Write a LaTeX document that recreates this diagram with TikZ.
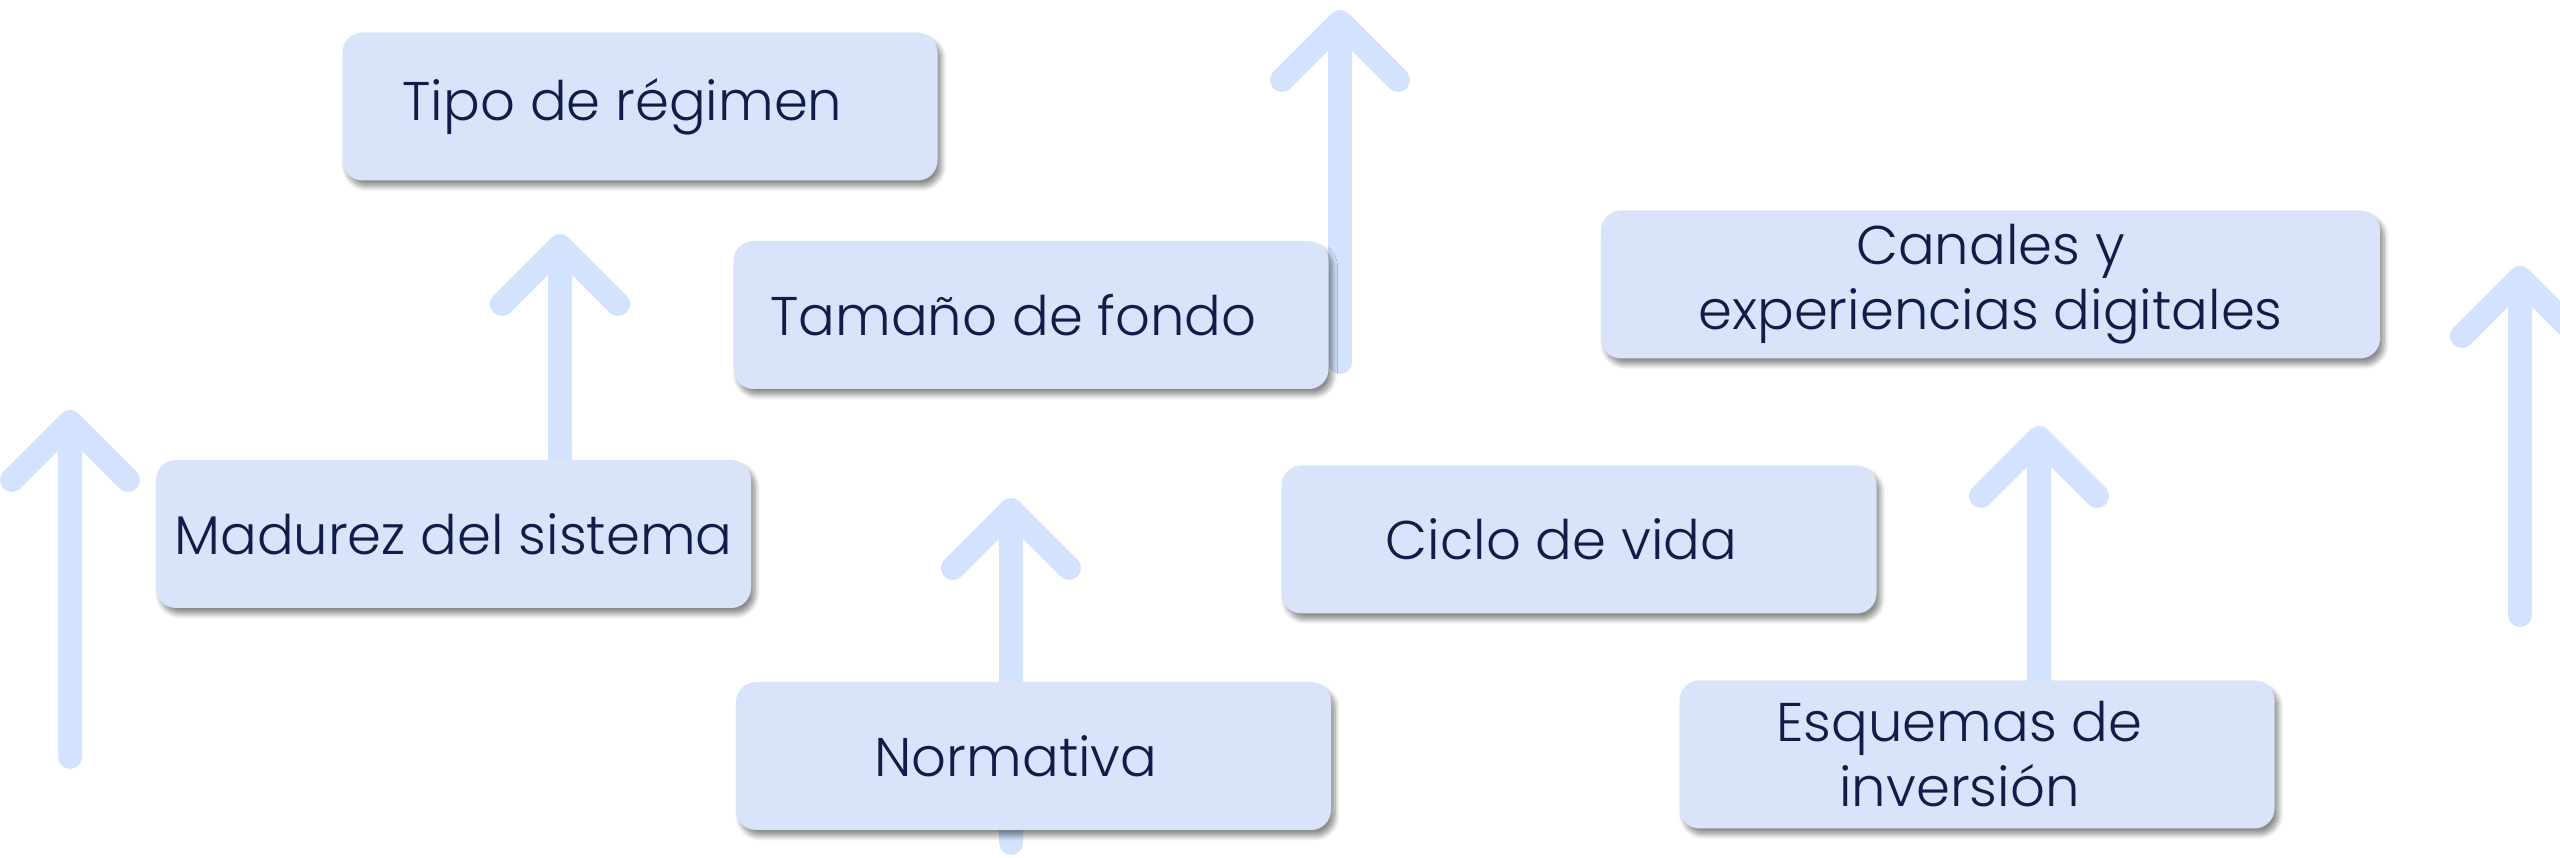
\documentclass[tikz,border=0pt]{standalone}
\usepackage{fontspec}
\setmainfont{Poppins}[UprightFont=* Light]
\usepackage{tikz}
\usetikzlibrary{calc}
\usetikzlibrary{shadows.blur}
\usetikzlibrary{backgrounds}

\definecolor{boxblue}{HTML}{D9E3F9}
\definecolor{arrowblue}{HTML}{D3E2FD}
\definecolor{ink}{HTML}{101D48}
\newcommand{\rpad}{\hspace*{.35cm}}

\tikzset{
  factor/.style={rounded corners=2mm, fill=boxblue, text=ink, align=center,
    minimum width=5.95cm, minimum height=1.48cm, inner sep=0pt,
    font=\fontsize{15.5}{18.5}\selectfont,
    blur shadow={shadow xshift=.04cm, shadow yshift=-.06cm,
      shadow blur radius=.5mm, shadow blur steps=8, shadow opacity=45}},
  pointer/.style={draw=arrowblue, line width=2.4mm, line cap=round, line join=round}
}

\begin{document}
\begin{tikzpicture}

    \useasboundingbox (0, 0) rectangle (25.6, 8.58);

    \node [factor] (tipo) at (6.40, 7.515) {Tipo de régimen\rpad};
    \node [factor] (tamano) at (10.31, 5.43) {Tamaño de fondo\rpad};
    \node [factor] (madurez) at (4.535, 3.24) {Madurez del sistema};
    \node [factor] (normativa) at (10.335, 1.02) {Normativa\rpad};
    \node [factor] (ciclo) at (15.79, 3.185) {Ciclo de vida\rpad};
    \node [factor, minimum width=7.79cm] (canales) at (19.905, 5.735)
    {Canales y\\experiencias digitales};
    \node [factor] (esquemas) at (19.77, 1.035) {Esquemas de\rpad\\inversión\rpad};

    \coordinate (baseA) at (0.70, 1.01);
    \coordinate (tipA) at (0.70, 4.36);
    \coordinate (tipB) at (5.60, 6.12);
    \coordinate (baseC) at (13.40, 4.96);
    \coordinate (tipC) at (13.40, 8.36);
    \coordinate (baseD) at (10.11, 0.15);
    \coordinate (tipD) at (10.11, 3.48);
    \coordinate (tipE) at (20.39, 4.20);
    \coordinate (baseF) at (25.20, 2.43);
    \coordinate (tipF) at (25.20, 5.80);

    \begin{scope}[on background layer]
      \draw [pointer] (baseA) -- (tipA) ++(-0.58, -0.58) -- (tipA) -- ++(0.58, -0.58);
      \draw [pointer] (madurez.north -| tipB) -- (tipB) ++(-0.58, -0.58) -- (tipB) -- ++(0.58, -0.58);
      \draw [pointer] (baseC) -- (tipC) ++(-0.58, -0.58) -- (tipC) -- ++(0.58, -0.58);
      \draw [pointer] (baseD) -- (tipD) ++(-0.58, -0.58) -- (tipD) -- ++(0.58, -0.58);
      \draw [pointer] (esquemas.north -| tipE) -- (tipE) ++(-0.58, -0.58) -- (tipE) -- ++(0.58, -0.58);
      \draw [pointer] (baseF) -- (tipF) ++(-0.58, -0.58) -- (tipF) -- ++(0.58, -0.58);
    \end{scope}

\end{tikzpicture}
\end{document}
